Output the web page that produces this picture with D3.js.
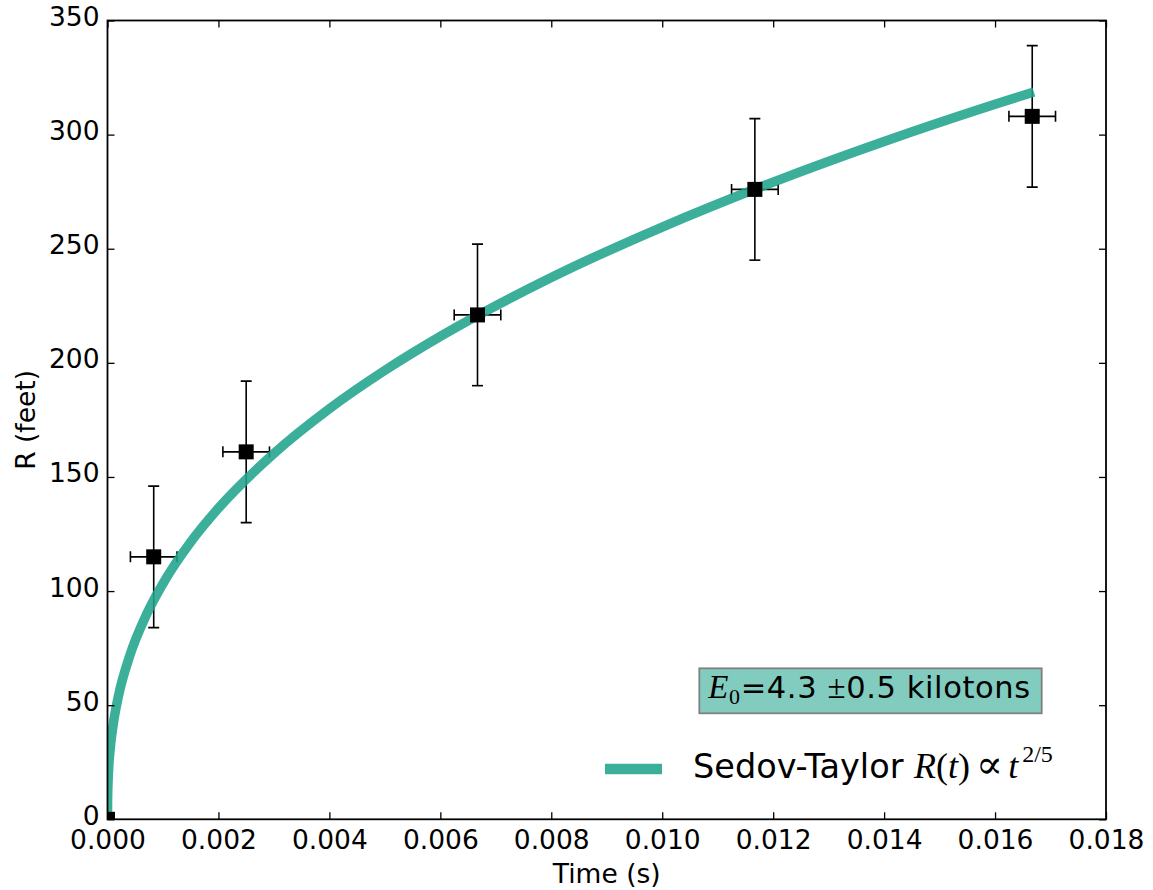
<!DOCTYPE html>
<html>
<head>
<meta charset="utf-8">
<script src="https://cdn.jsdelivr.net/npm/d3@7"></script>
<style>
  body { margin: 0; background: #fff; }
  svg { display: block; }
</style>
</head>
<body>
<div id="chart"></div>
<script>
// measured blast radius (feet) per frame time (s)
const timeS = [0, 0.000833, 0.0025, 0.00667, 0.01167, 0.01667];
const radiusFt = [0, 115, 161, 221, 276, 308];
const timeErr = [0, 0.00042, 0.00042, 0.00042, 0.00042, 0.00042];
const radiusErr = [0, 31, 31, 31, 31, 31];

// Sedov-Taylor fit curve
const fitT = [0, 0.000001, 0.00001, 0.00005, 0.0001, 0.0002, 0.0004, 0.0007, 0.001, 0.0015,
              0.002, 0.003, 0.004, 0.005, 0.006, 0.008, 0.010, 0.012, 0.014, 0.016, 0.0167];
const fitR = [0, 6.5, 16.4, 31.2, 41.1, 54.3, 71.6, 89.6, 103.3, 121.5,
              136.3, 160.3, 179.9, 196.7, 211.6, 237.4, 259.5, 279.2, 297.0, 313.3, 318.7];

const xTicks = [0, 0.002, 0.004, 0.006, 0.008, 0.010, 0.012, 0.014, 0.016, 0.018];
const yTicks = [0, 50, 100, 150, 200, 250, 300, 350];

const width = 1153, height = 890;
const margin = {top: 20.5, right: 47, bottom: 70.7, left: 107.5};
const teal = "#20a48c";

const svg = d3.select("#chart").append("svg")
    .attr("width", width)
    .attr("height", height)
    .style("font-family", "'DejaVu Sans', sans-serif");

const x = d3.scaleLinear().domain([0, 0.018]).range([margin.left, width - margin.right]);
const y = d3.scaleLinear().domain([0, 350]).range([height - margin.bottom, margin.top]);
const pw = x.range()[1] - x.range()[0];
const ph = y.range()[0] - y.range()[1];

svg.append("clipPath").attr("id", "plot-clip")
  .append("rect")
    .attr("x", margin.left).attr("y", margin.top)
    .attr("width", pw).attr("height", ph);

const plot = svg.append("g").attr("clip-path", "url(#plot-clip)");

// error bars
const points = timeS.map((t, i) => ({t, r: radiusFt[i], dt: timeErr[i], dr: radiusErr[i]}));
const bars = plot.append("g").attr("stroke", "#000").attr("stroke-width", 1.6);
const cap = 5.5;
points.filter(d => d.dr > 0).forEach(d => {
  bars.append("line").attr("x1", x(d.t)).attr("x2", x(d.t)).attr("y1", y(d.r - d.dr)).attr("y2", y(d.r + d.dr));
  bars.append("line").attr("x1", x(d.t - d.dt)).attr("x2", x(d.t + d.dt)).attr("y1", y(d.r)).attr("y2", y(d.r));
  [d.r - d.dr, d.r + d.dr].forEach(v =>
    bars.append("line").attr("x1", x(d.t) - cap).attr("x2", x(d.t) + cap).attr("y1", y(v)).attr("y2", y(v)));
  [d.t - d.dt, d.t + d.dt].forEach(v =>
    bars.append("line").attr("x1", x(v)).attr("x2", x(v)).attr("y1", y(d.r) - cap).attr("y2", y(d.r) + cap));
});

// fit curve
const line = d3.line().x((d, i) => x(fitT[i])).y(d => y(d)).curve(d3.curveMonotoneX);
plot.append("path")
    .datum(fitR)
    .attr("d", line)
    .attr("fill", "none")
    .attr("stroke", teal)
    .attr("stroke-opacity", 0.88)
    .attr("stroke-width", 9.5);

// markers
const ms = 15;
plot.append("g").selectAll("rect")
  .data(points)
  .join("rect")
    .attr("x", d => x(d.t) - ms / 2)
    .attr("y", d => y(d.r) - ms / 2)
    .attr("width", ms).attr("height", ms)
    .attr("fill", "#000");

// axes: inward ticks on all four sides
const tickLen = 7;
const fmtX = d3.format(".3f");
svg.append("g")
    .attr("transform", `translate(0,${y(0)})`)
    .call(d3.axisBottom(x).tickValues(xTicks).tickFormat(fmtX).tickSizeInner(-tickLen).tickSizeOuter(0).tickPadding(11))
    .call(g => g.select(".domain").remove());
svg.append("g")
    .attr("transform", `translate(0,${y(350)})`)
    .call(d3.axisTop(x).tickValues(xTicks).tickFormat("").tickSizeInner(-tickLen).tickSizeOuter(0))
    .call(g => g.select(".domain").remove());
svg.append("g")
    .attr("class", "y-left")
    .attr("transform", `translate(${x(0)},0)`)
    .call(d3.axisLeft(y).tickValues(yTicks).tickSizeInner(-tickLen).tickSizeOuter(0).tickPadding(8))
    .call(g => g.select(".domain").remove());
svg.append("g")
    .attr("transform", `translate(${x(0.018)},0)`)
    .call(d3.axisRight(y).tickValues(yTicks).tickFormat("").tickSizeInner(-tickLen).tickSizeOuter(0))
    .call(g => g.select(".domain").remove());

svg.selectAll(".tick line").attr("stroke", "#000").attr("stroke-width", 1.3);
svg.selectAll(".tick text")
    .attr("fill", "#000")
    .style("font-size", "26.5px")
    .style("font-family", "'DejaVu Sans', sans-serif");
svg.selectAll(".y-left .tick text").attr("y", -3.5);

// frame
svg.append("rect")
    .attr("x", margin.left).attr("y", margin.top)
    .attr("width", pw).attr("height", ph)
    .attr("fill", "none")
    .attr("stroke", "#000")
    .attr("stroke-width", 1.8);

// axis labels
svg.append("text")
    .attr("x", margin.left + pw / 2)
    .attr("y", 882.5)
    .attr("text-anchor", "middle")
    .style("font-size", "26.5px")
    .text("Time (s)");
svg.append("text")
    .attr("transform", `translate(35,${margin.top + ph / 2}) rotate(-90)`)
    .attr("text-anchor", "middle")
    .style("font-size", "26.5px")
    .text("R (feet)");

// energy annotation box
const serif = "'Liberation Serif', 'DejaVu Serif', serif";
const bx = margin.left + 0.5927 * pw, by = margin.top + 0.811 * ph;
const bw = 0.3429 * pw, bh = 0.0563 * ph;
svg.append("rect")
    .attr("x", bx).attr("y", by).attr("width", bw).attr("height", bh)
    .attr("fill", teal).attr("fill-opacity", 0.56)
    .attr("stroke", "#808080").attr("stroke-width", 1.8);
const eText = svg.append("text")
    .attr("x", bx + 9).attr("y", by + 30)
    .style("font-size", "30.5px")
    .style("letter-spacing", "0.6px");
eText.append("tspan").style("font-family", serif).style("font-style", "italic").style("font-size", "33px").text("E");
eText.append("tspan").style("font-family", serif).style("font-size", "22px").attr("dy", 6).text("0");
eText.append("tspan").attr("dy", -6).text("=4.3 ");
eText.append("tspan").style("font-family", serif).style("font-size", "33px").text("±");
eText.append("tspan").text("0.5 kilotons");

// legend
const ly = 769;
svg.append("line")
    .attr("x1", 605).attr("x2", 662)
    .attr("y1", ly).attr("y2", ly)
    .attr("stroke", teal).attr("stroke-opacity", 0.88)
    .attr("stroke-width", 10.5);
const lt = svg.append("text")
    .attr("x", 693).attr("y", 778)
    .style("font-size", "33.5px");
lt.append("tspan").text("Sedov-Taylor ");
lt.append("tspan").style("font-family", serif).style("font-style", "italic").style("font-size", "36px").text("R");
lt.append("tspan").style("font-family", serif).style("font-size", "36px").text("(");
lt.append("tspan").style("font-family", serif).style("font-style", "italic").style("font-size", "36px").text("t");
lt.append("tspan").style("font-family", serif).style("font-size", "36px").text(")");
lt.append("tspan").style("font-family", "'DejaVu Serif', serif").style("font-size", "40px").attr("dx", 6).text("∝");
lt.append("tspan").style("font-family", serif).style("font-style", "italic").style("font-size", "36px").attr("dx", 5).text("t");
lt.append("tspan").style("font-family", serif).style("font-size", "24px").attr("dx", 4).attr("dy", -16).text("2/5");
</script>
</body>
</html>
